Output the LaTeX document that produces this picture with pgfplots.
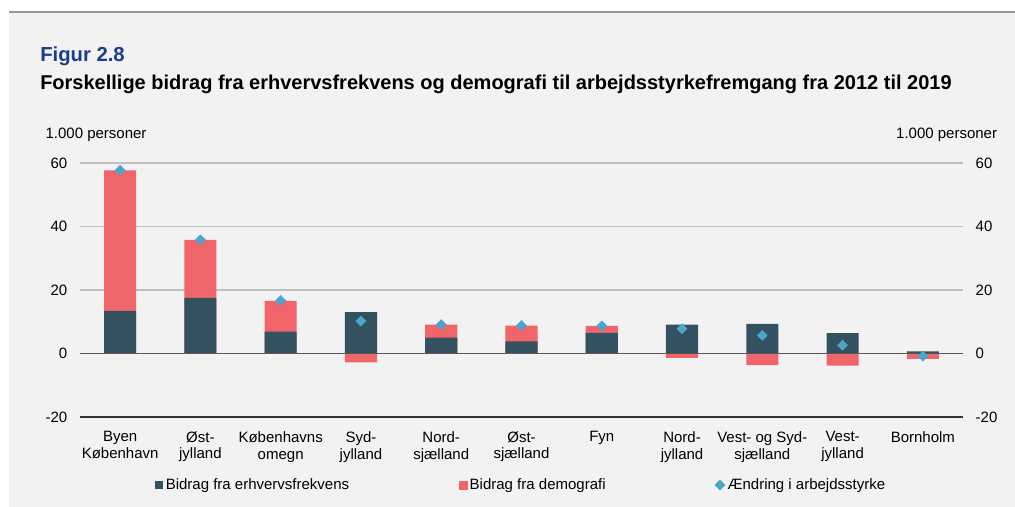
\documentclass[border=0pt]{standalone}
\usepackage{pgfplots}
\pgfplotsset{compat=1.18}
\usepackage{pgfplotstable}
\usepackage{fontspec}
\setmainfont{Liberation Sans}
\definecolor{bg}{RGB}{242,242,242}
\definecolor{darkbar}{RGB}{52,81,96}
\definecolor{redbar}{RGB}{240,101,106}
\definecolor{diam}{RGB}{75,165,204}
\definecolor{titleblue}{RGB}{28,62,138}
\pgfplotstableread{
x dark red change
0 13.4 44.3 57.7
1 17.5 18.3 35.8
2 6.9 9.7 16.7
3 13.0 -2.8 10.2
4 5.0 4.1 9.1
5 3.8 5.0 8.8
6 6.5 2.2 8.7
7 9.1 -1.4 7.8
8 9.3 -3.7 5.7
9 6.4 -3.8 2.6
10 0.7 -1.7 -0.8
}\datatable
\begin{document}
\begin{tikzpicture}
\path[use as bounding box] (0,0) rectangle (761.25pt,380.25pt);
\fill[bg] (6.75pt,0) rectangle (761.25pt,371.25pt);
\draw[gray!80,line width=0.8pt] (6.75pt,371.25pt) -- (761.25pt,371.25pt);
\node[anchor=base west,font=\fontsize{15.2}{17}\selectfont\bfseries,text=titleblue,inner sep=0] at (30pt,333.75pt) {Figur 2.8};
\node[anchor=base west,font=\fontsize{15}{17}\selectfont\bfseries,inner sep=0] at (30pt,312.75pt) {Forskellige bidrag fra erhvervsfrekvens og demografi til arbejdsstyrkefremgang fra 2012 til 2019};
\node[anchor=base west,font=\fontsize{11.25}{13}\selectfont,inner sep=0] at (34pt,276pt) {1.000 personer};
\node[anchor=base east,font=\fontsize{11.25}{13}\selectfont,inner sep=0] at (748pt,276pt) {1.000 personer};
\begin{axis}[
  at={(60pt,67.5pt)}, anchor=south west,
  scale only axis, width=662.25pt, height=190.5pt,
  xmin=-0.5, xmax=10.5, ymin=-20, ymax=60,
  ytick={-20,0,20,40,60},
  axis x line*=bottom, axis y line*=left,
  y axis line style={draw=none},
  x axis line style={black!80,line width=0.8pt},
  ytick style={draw=none},
  ymajorgrids, grid style={black!25,line width=0.8pt},
  extra y ticks={0}, extra y tick labels={},
  extra y tick style={grid style={black!65,line width=0.9pt}},
  xtick={0,...,10},
  xtick style={draw=none},
  minor xtick={-0.5,0.5,...,10.5},
  minor tick length=3.75pt,
  xtick align=outside,
  minor x tick style={black!80,line width=0.8pt},
  xticklabels={{Byen\\København},{Øst-\\jylland},{Københavns\\omegn},{Syd-\\jylland},{Nord-\\sjælland},{Øst-\\sjælland},{Fyn},{Nord-\\jylland},{Vest- og Syd-\\sjælland},{Vest-\\jylland},{Bornholm}},
  xticklabel style={align=center,font=\fontsize{11.25}{12.6}\selectfont,anchor=north,yshift=-3pt},
  yticklabel style={font=\fontsize{11.25}{13}\selectfont,xshift=-6pt},
  /pgf/number format/assume math mode=true,
  legend style={at={(0.5,-0.2677)},anchor=center,draw=none,fill=none,legend columns=3,
    font=\fontsize{11.25}{13}\selectfont,
    /tikz/every even column/.append style={column sep=80pt}},
  legend cell align=left,
]
\addplot[ybar,bar width=0.4,bar shift=0pt,fill=redbar,draw=none,forget plot]
  table[x=x,y expr={ifthenelse(\thisrow{red}>0,\thisrow{dark}+\thisrow{red},\thisrow{red})}] {\datatable};
\addplot[ybar,bar width=0.4,bar shift=0pt,fill=darkbar,draw=none,
  legend image code/.code={\fill[darkbar] (0pt,-3pt) rectangle (6pt,3pt);}]
  table[x=x,y=dark] {\datatable};
\addlegendentry{Bidrag fra erhvervsfrekvens}
\addlegendimage{legend image code/.code={\fill[redbar] (0pt,-3pt) rectangle (6pt,3pt);}}
\addlegendentry{Bidrag fra demografi}
\addplot[diam,only marks,mark=square*,mark size=2.65pt,mark options={rotate=45,fill=diam,draw=none}]
  table[x=x,y=change] {\datatable};
\addlegendentry{Ændring i arbejdsstyrke}
\end{axis}
\begin{axis}[
  at={(60pt,67.5pt)}, anchor=south west,
  scale only axis, width=662.25pt, height=190.5pt,
  xmin=-0.5, xmax=10.5, ymin=-20, ymax=60,
  ytick={-20,0,20,40,60},
  axis y line*=right, hide x axis,
  y axis line style={draw=none},
  ytick style={draw=none},
  yticklabel style={font=\fontsize{11.25}{13}\selectfont,xshift=6pt},
  /pgf/number format/assume math mode=true,
]
\addplot[draw=none] coordinates {(0,0)};
\end{axis}
\end{tikzpicture}
\end{document}
